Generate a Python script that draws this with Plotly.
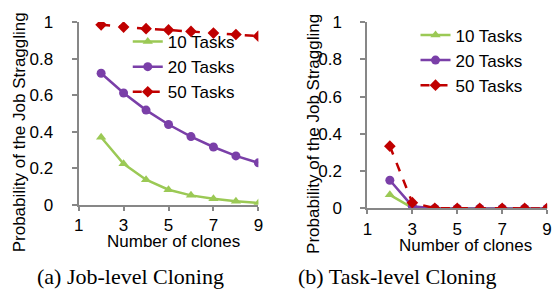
import plotly.graph_objects as go

clones = [2, 3, 4, 5, 6, 7, 8, 9]
series_names = ["10 Tasks", "20 Tasks", "50 Tasks"]

job_10 = [0.369, 0.224, 0.137, 0.082, 0.051, 0.032, 0.019, 0.009]
job_20 = [0.720, 0.612, 0.518, 0.439, 0.373, 0.316, 0.267, 0.229]
job_50 = [0.985, 0.973, 0.964, 0.957, 0.949, 0.940, 0.932, 0.923]

task_10 = [0.073, 0.003, 0.0, 0.0, 0.0, 0.0, 0.0, 0.0]
task_20 = [0.151, 0.012, 0.0, 0.0, 0.0, 0.0, 0.0, 0.0]
task_50 = [0.334, 0.031, 0.001, 0.0, 0.0, 0.0, 0.0, 0.0]

x_ticks = [1, 3, 5, 7, 9]
y_ticks = [0, 0.2, 0.4, 0.6, 0.8, 1]
y_ticktext = ["0", "0.2", "0.4", "0.6", "0.8", "1"]

x_title = "Number of clones"
y_title = "Probability of the Job Straggling"
captions = ["(a) Job-level Cloning", "(b) Task-level Cloning"]

GREEN = "#9BC955"
PURPLE = "#7A3FA8"
RED = "#C00000"
AXIS = "#878787"
FONT = "Liberation Sans, Arial, sans-serif"
SERIF = "Liberation Serif, Times New Roman, serif"

styles = [
    dict(color=GREEN, symbol="triangle-up", dash="solid", msize=9),
    dict(color=PURPLE, symbol="circle", dash="solid", msize=9),
    dict(color=RED, symbol="diamond", dash="dash", msize=9),
]

fig = go.Figure()

panels = [
    ([job_10, job_20, job_50], "x", "y", "legend"),
    ([task_10, task_20, task_50], "x2", "y2", "legend2"),
]

for data, xa, ya, lg in panels:
    for name, vals, st in zip(series_names, data, styles):
        fig.add_trace(go.Scatter(
            x=clones, y=vals, name=name, mode="lines+markers",
            xaxis=xa, yaxis=ya, legend=lg,
            line=dict(color=st["color"], width=2.5, dash=st["dash"]),
            marker=dict(color=st["color"], symbol=st["symbol"], size=st["msize"]),
        ))

W, H = 558, 298

def px(v):
    return v / W

def py(v):
    return (H - v) / H

xcommon = dict(range=[1, 9], tickvals=x_ticks, showline=True, linecolor=AXIS, linewidth=2,
               ticks="outside", ticklen=4, tickcolor=AXIS, tickwidth=2, showgrid=False,
               zeroline=False, tickfont=dict(family=FONT, size=17, color="black"),
               ticklabeloverflow="allow")
ycommon = dict(range=[0, 1], tickvals=y_ticks, ticktext=y_ticktext, showline=True, linecolor=AXIS,
               linewidth=2, ticks="outside", ticklen=5, tickcolor=AXIS, tickwidth=2, showgrid=False,
               zeroline=False, tickfont=dict(family=FONT, size=17, color="black"),
               ticklabelstandoff=15)

fig.update_layout(
    width=W, height=H,
    margin=dict(l=0, r=0, t=0, b=0),
    paper_bgcolor="white", plot_bgcolor="white",
    showlegend=True,
    xaxis=dict(domain=[px(75), px(258)], anchor="y", **xcommon),
    yaxis=dict(domain=[py(209), py(14)], anchor="x", **ycommon),
    xaxis2=dict(domain=[px(369), px(552)], anchor="y2", **xcommon),
    yaxis2=dict(domain=[py(213), py(14)], anchor="x2", **ycommon),
    legend=dict(x=px(125), y=py(16), xanchor="left", yanchor="top",
                font=dict(family=FONT, size=17, color="black"), itemwidth=30,
                bgcolor="rgba(0,0,0,0)", tracegroupgap=0),
    legend2=dict(x=px(418), y=py(9), xanchor="left", yanchor="top",
                 font=dict(family=FONT, size=17, color="black"), itemwidth=30,
                 bgcolor="rgba(0,0,0,0)", tracegroupgap=0),
)

annots = [
    dict(text=y_title, x=px(15), y=py(132), textangle=-90, size=17, family=FONT),
    dict(text=y_title, x=px(314), y=py(133), textangle=-90, size=17, family=FONT),
    dict(text=x_title, x=px(172), y=py(248), textangle=0, size=17, family=FONT),
    dict(text=x_title, x=px(469), y=py(253), textangle=0, size=17, family=FONT),
    dict(text=captions[0], x=px(128), y=py(286), textangle=0, size=22, family=SERIF),
    dict(text=captions[1], x=px(399), y=py(286), textangle=0, size=22, family=SERIF),
]
for a in annots:
    fig.add_annotation(text=a["text"], x=a["x"], y=a["y"], xref="paper", yref="paper",
                       xanchor="center", yanchor="middle", showarrow=False,
                       textangle=a["textangle"],
                       font=dict(family=a["family"], size=a["size"], color="black"))

fig.write_html(
    "out.html",
    config={"displayModeBar": False},
    post_script="document.body.style.margin='0';document.body.style.overflow='hidden';",
)
